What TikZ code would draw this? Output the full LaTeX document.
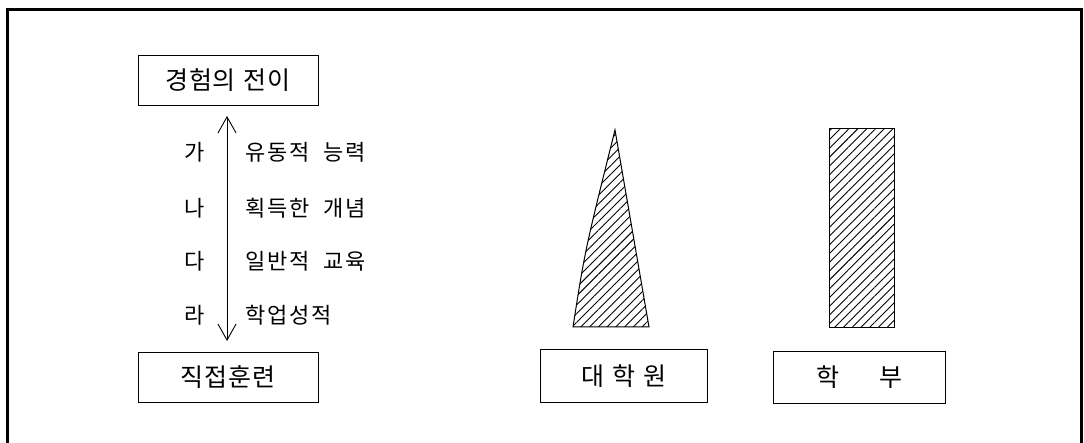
\documentclass[tikz,border=0pt]{standalone}
\usepackage{fontspec}
\newfontfamily\kr[LetterSpace=3]{Noto Sans CJK KR}
\newfontfamily\krs[LetterSpace=8]{Noto Sans CJK KR}
\usetikzlibrary{patterns.meta,arrows.meta}
\begin{document}
\begin{tikzpicture}[x=1pt,y=-1pt,
  box/.style={draw,line width=1pt,minimum height=50pt,inner sep=0pt,font=\kr\fontsize{25}{29}\selectfont},
  lbl/.style={inner sep=0pt,font=\krs\fontsize{22}{25}\selectfont},
  hatch/.style={draw,line width=1pt,pattern={Lines[angle=45,distance=6.2pt,line width=0.9pt]}}]
\useasboundingbox (0,0) rectangle (1084,443);
\draw[line width=3pt] (7,460) -- (7,10) -- (1081,10) -- (1081,460);
\node[box,minimum width=180pt] (top) at (228,80.5) {경험의\hspace{8pt}전이};
\node[box,minimum width=180pt] (bot) at (228,377.5) {직접훈련};
\node[box,minimum width=167pt,minimum height=52pt] (grad) at (623.5,376) {대\hspace{8pt}학\hspace{8pt}원};
\node[box,minimum width=172pt,minimum height=51pt] (under) at (859,377.5) {학\hspace{40pt}부};
\coordinate (a1) at (227,116);
\coordinate (a2) at (227,341);
\draw[line width=0.9pt,{Straight Barb[length=16pt,width=18pt,line width=0.9pt]}-{Straight Barb[length=16pt,width=18pt,line width=0.9pt]}] (a1) -- (a2);
\node[lbl] (ga) at (195,152) {가};
\node[lbl] (na) at (195,208) {나};
\node[lbl] (da) at (195,261) {다};
\node[lbl] (ra) at (195,315) {라};
\node[lbl,anchor=west] (t1) at (245,152) {유동적\hspace{14pt}능력};
\node[lbl,anchor=west] (t2) at (245,208) {획득한\hspace{14pt}개념};
\node[lbl,anchor=west] (t3) at (245,261) {일반적\hspace{14pt}교육};
\node[lbl,anchor=west] (t4) at (245,315) {학업성적};
\path[hatch] (573,327) .. controls (585,250) .. (615,130) -- (649,327) -- cycle;
\path[hatch] (829,129) rectangle (894,328);
\end{tikzpicture}
\end{document}
